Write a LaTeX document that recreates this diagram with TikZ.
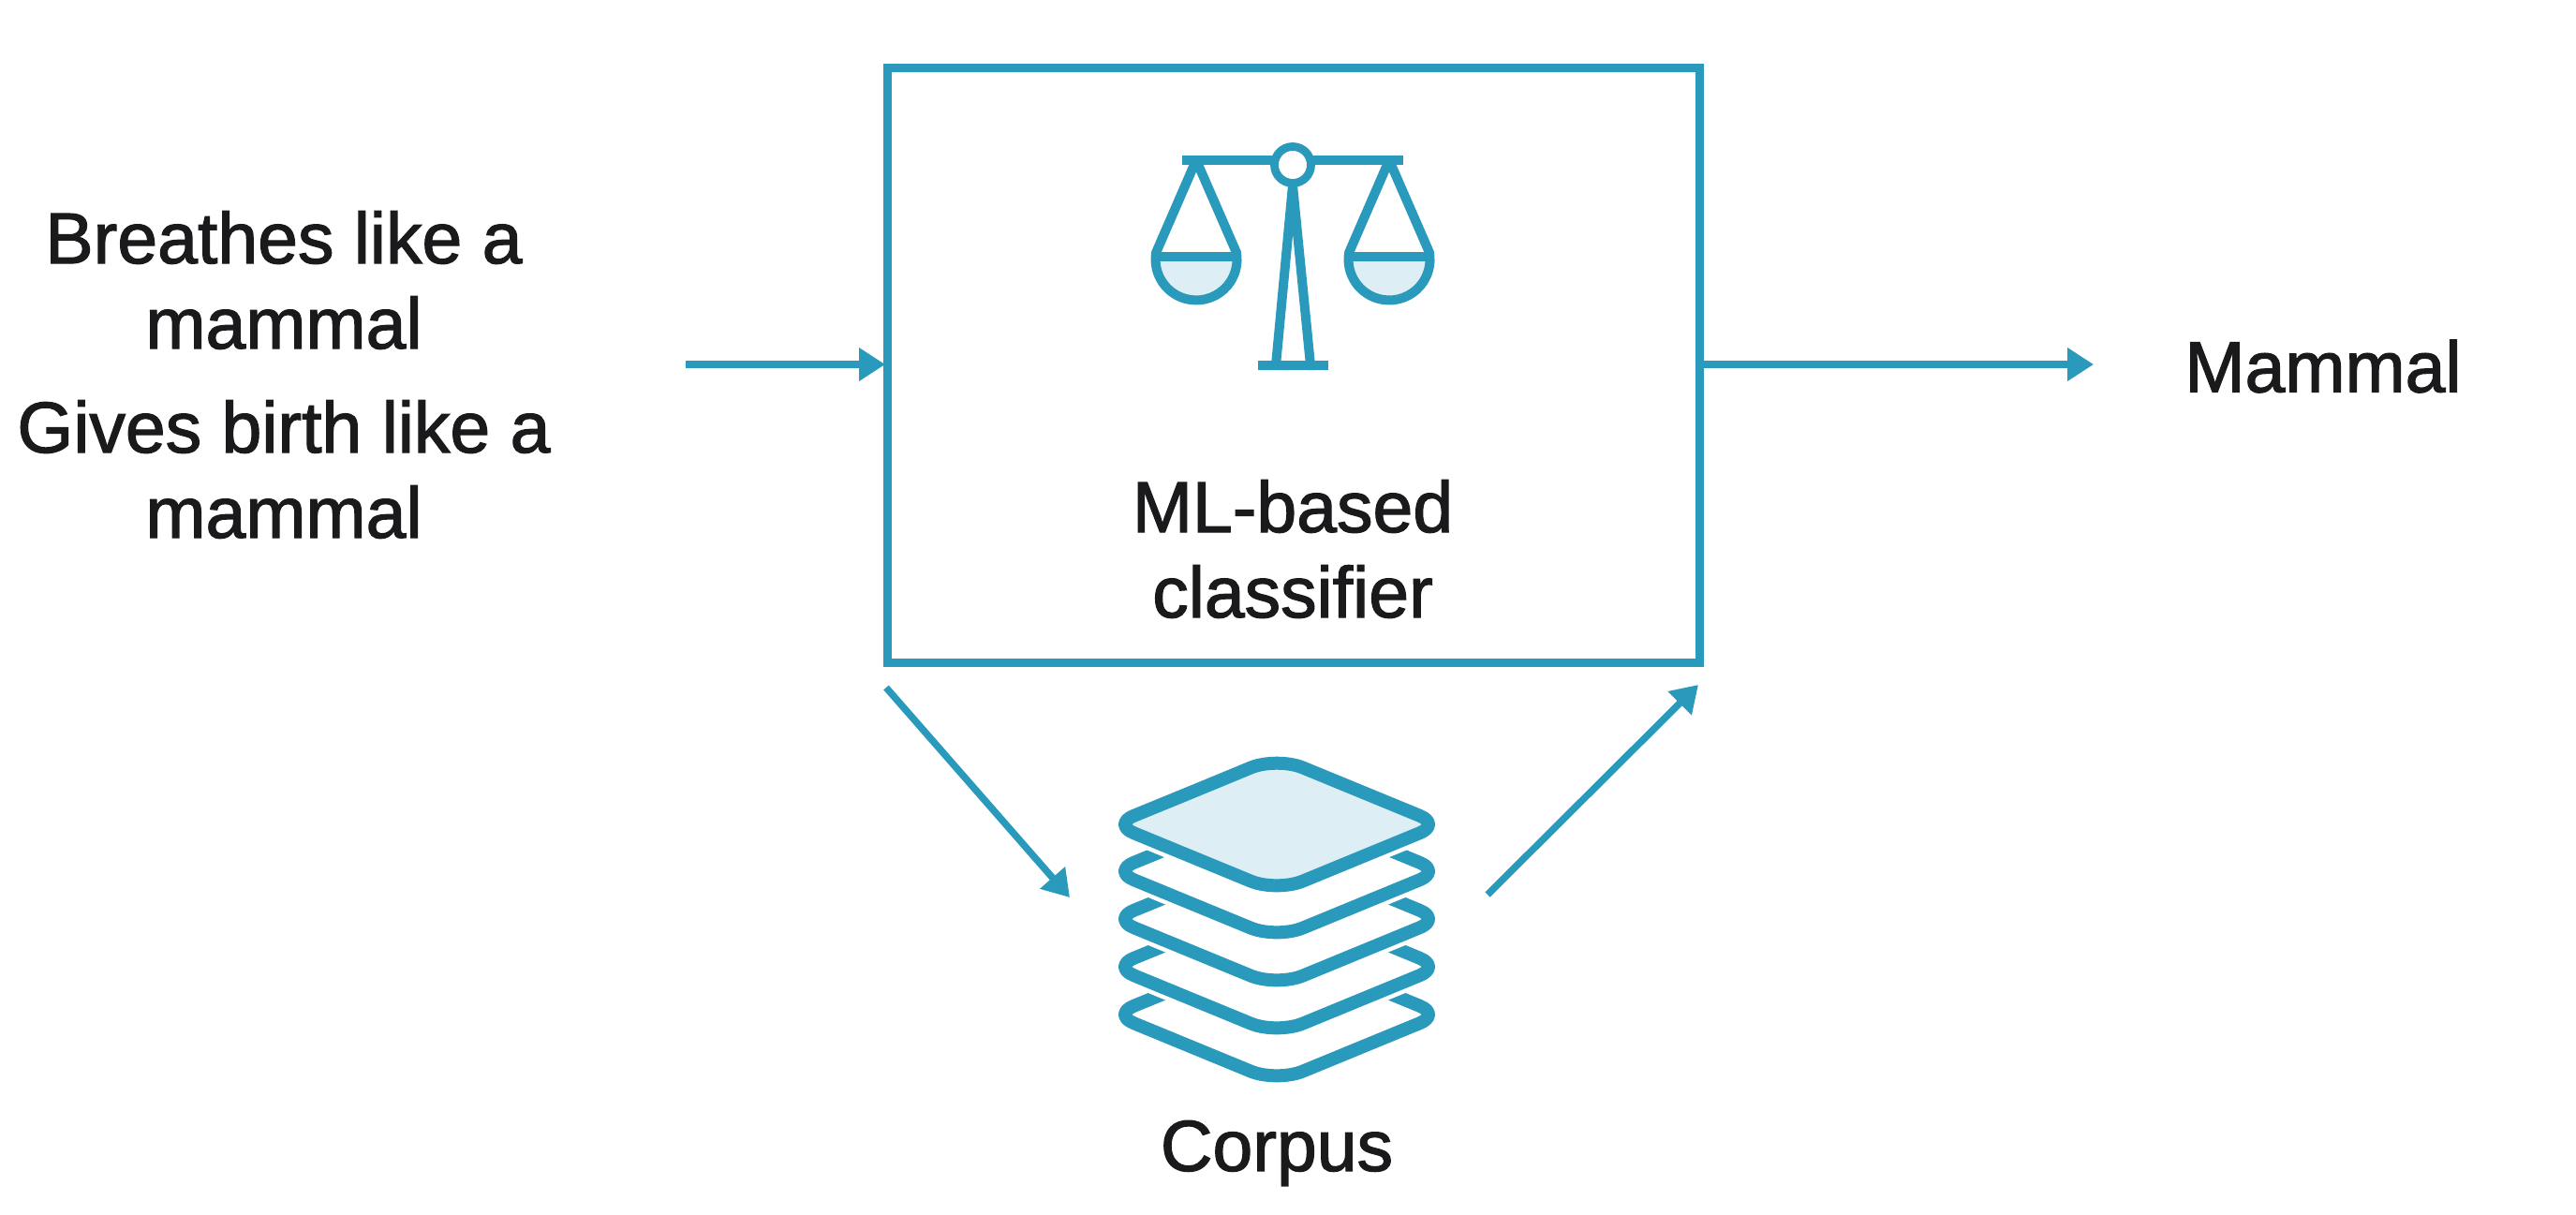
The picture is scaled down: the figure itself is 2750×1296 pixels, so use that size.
\documentclass[tikz,border=0pt]{standalone}
\usepackage{fontspec}
\setmainfont{Liberation Sans}[BoldFont=Liberation Sans,BoldFeatures={FakeBold=1.6}]
\usetikzlibrary{arrows.meta}
\definecolor{teal1}{HTML}{2A9ABC}
\definecolor{pale}{HTML}{DDEEF5}
\definecolor{ink}{HTML}{1A1A1C}
\tikzset{
  x=0.5pt,y=-0.5pt,
  lab/.style={font=\fontsize{38.5}{45.5}\selectfont\bfseries,text=ink,align=center,inner sep=0pt},
  flow/.style={draw=teal1,line width=3.7pt,-{Triangle[length=14pt,width=17pt]}},
  icon/.style={draw=teal1,line width=5pt},
  layer/.style={draw=teal1,line width=7pt,line join=round,preaction={draw=white,line width=11.5pt}},
}
\begin{document}
\begin{tikzpicture}
\useasboundingbox (0,0) rectangle (2750,1296);
\fill[white] (0,0) rectangle (2750,1296);
% classifier box
\node[draw=teal1,line width=4.5pt,outer sep=0pt,minimum width=433.25pt,minimum height=317.5pt,inner sep=0pt,anchor=north west] (clf) at (947.5,72) {};
\node[lab] (clflabel) at (1380,586) {ML-based\\classifier};
% side texts
\node[lab] (inputs) at (303,400) {Breathes like a\\mammal\\[10pt]Gives birth like a\\mammal};
\node[lab] (out) at (2480,391) {Mammal};
\node[lab] (corpus) at (1363,1231) {Corpus};
% connector ends
\coordinate (inS) at (732,389);
\coordinate (inE) at (945,389);
\coordinate (outS) at (1818,389);
\coordinate (outE) at (2235,389);
\coordinate (dS) at (946,734);
\coordinate (dE) at (1142,958);
\coordinate (uS) at (1588,955);
\coordinate (uE) at (1813,731);
\draw[flow] (inS) -- (inE);
\draw[flow] (outS) -- (outE);
\draw[flow] (dS) -- (dE);
\draw[flow] (uS) -- (uE);
% scales
\fill[pale] (1233.5,277) arc[start angle=180,end angle=0,radius=43.5] -- cycle;
\fill[pale] (1439.5,277) arc[start angle=180,end angle=0,radius=43.5] -- cycle;
\draw[icon] (1262,171) -- (1361,171);
\draw[icon] (1399,171) -- (1498,171);
\draw[icon,line width=4.4pt] (1380,176) circle[radius=19.5];
\draw[icon,line join=round] (1277,171) -- (1234.2,269.4) arc[start angle=190,end angle=-10,radius=43.5] -- cycle;
\draw[icon,line join=round] (1483,171) -- (1440.2,269.4) arc[start angle=190,end angle=-10,radius=43.5] -- cycle;
\draw[icon] (1233.5,274) -- (1320.5,274);
\draw[icon] (1439.5,274) -- (1526.5,274);
\draw[icon,line join=round] (1362,390) -- (1380,198) -- (1399,390);
\draw[icon] (1343,390) -- (1418,390);
% corpus: five stacked sheets, bottom one first
\foreach \d/\c in {203/white,152/white,101/white,50/white,0/pale}{
  \draw[layer,fill=\c] (1276,{844+\d}) [rounded corners=15pt] -- (1363,{808+\d}) [rounded corners=12pt] -- (1538,{880+\d}) [rounded corners=15pt] -- (1363,{952+\d}) [rounded corners=12pt] -- (1188,{880+\d}) [rounded corners=15pt] -- cycle;
}
\end{tikzpicture}
\end{document}
